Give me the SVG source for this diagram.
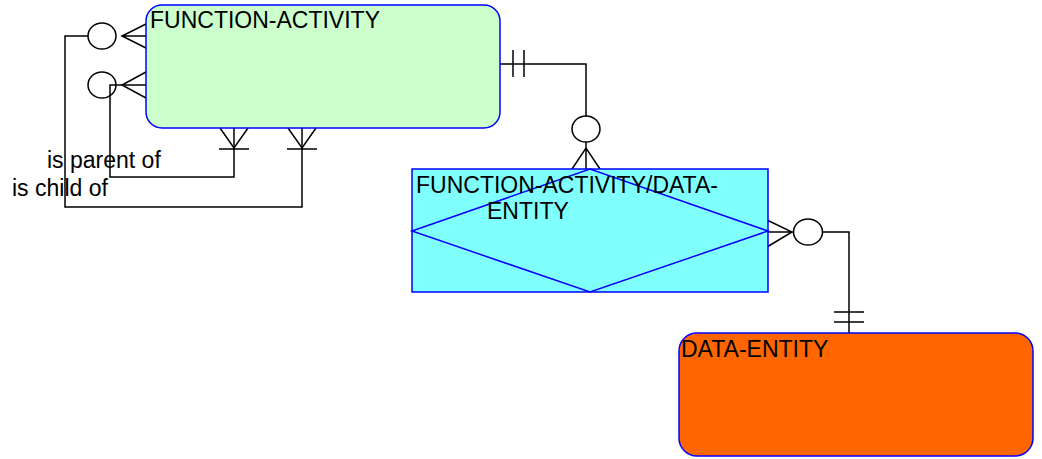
<svg xmlns="http://www.w3.org/2000/svg" width="1042" height="459" viewBox="0 0 1042 459">
<style>
.ent{stroke:#0000FF;stroke-width:1.5}
.ln{fill:none;stroke:#000;stroke-width:1.5}
.ov{fill:#fff;stroke:#000;stroke-width:1.5}
text{font-family:"Liberation Sans",Arial,sans-serif;font-size:23px;fill:#000}
</style>
<rect width="1042" height="459" fill="#fff"/>
<g id="connectors">
  <!-- recursive 1: is child of -->
  <polyline class="ln" points="89,36 65,36 65,207 302,207 302,128"/>
  <ellipse class="ov" cx="102" cy="36" rx="14" ry="13"/>
  <path class="ln" d="M146,24 L122,36 L146,48 M122,36 L146,36"/>
  <path class="ln" d="M288,128 L302,148 L316,128 M287,149 L317,149"/>
  <!-- recursive 2: is parent of -->
  <ellipse class="ov" cx="102" cy="85" rx="14" ry="13"/>
  <polyline class="ln" points="146,85 110,85 110,177 234,177 234,128"/>
  <path class="ln" d="M146,72 L122,85 L146,98"/>
  <path class="ln" d="M220,128 L234,148 L248,128 M219,149 L249,149"/>
  <!-- FA to FA/DE -->
  <polyline class="ln" points="500,64 586,64 586,116"/>
  <path class="ln" d="M513,50 L513,77 M524,50 L524,77"/>
  <ellipse class="ov" cx="586" cy="129" rx="14" ry="13"/>
  <path class="ln" d="M586,142 L586,169 M572,169 L586,148 L600,169"/>
  <!-- FA/DE to DE -->
  <path class="ln" d="M767,220 L792,232 L767,247 M768,232 L794,232"/>
  <ellipse class="ov" cx="808" cy="232" rx="14.5" ry="13"/>
  <polyline class="ln" points="822,232 849,232 849,333"/>
  <path class="ln" d="M834,312 L864,312 M834,322 L864,322"/>
</g>
<g id="function-activity">
  <rect class="ent" x="146" y="5" width="354" height="123" rx="16" fill="#CCFFCC"/>
  <text x="150" y="28">FUNCTION-ACTIVITY</text>
</g>
<g id="labels">
  <text x="47" y="168">is parent of</text>
  <text x="12" y="196">is child of</text>
</g>
<g id="function-activity-data-entity">
  <rect class="ent" x="412" y="169" width="356" height="123" fill="#80FFFF"/>
  <polygon class="ent" points="412,231 590,169 768,231 590,292" fill="none"/>
  <text x="416" y="193">FUNCTION-ACTIVITY/DATA-</text>
  <text x="487" y="219">ENTITY</text>
</g>
<g id="data-entity">
  <rect class="ent" x="679" y="333" width="354" height="123" rx="18" fill="#FF6600"/>
  <text x="681" y="357">DATA-ENTITY</text>
</g>
</svg>
